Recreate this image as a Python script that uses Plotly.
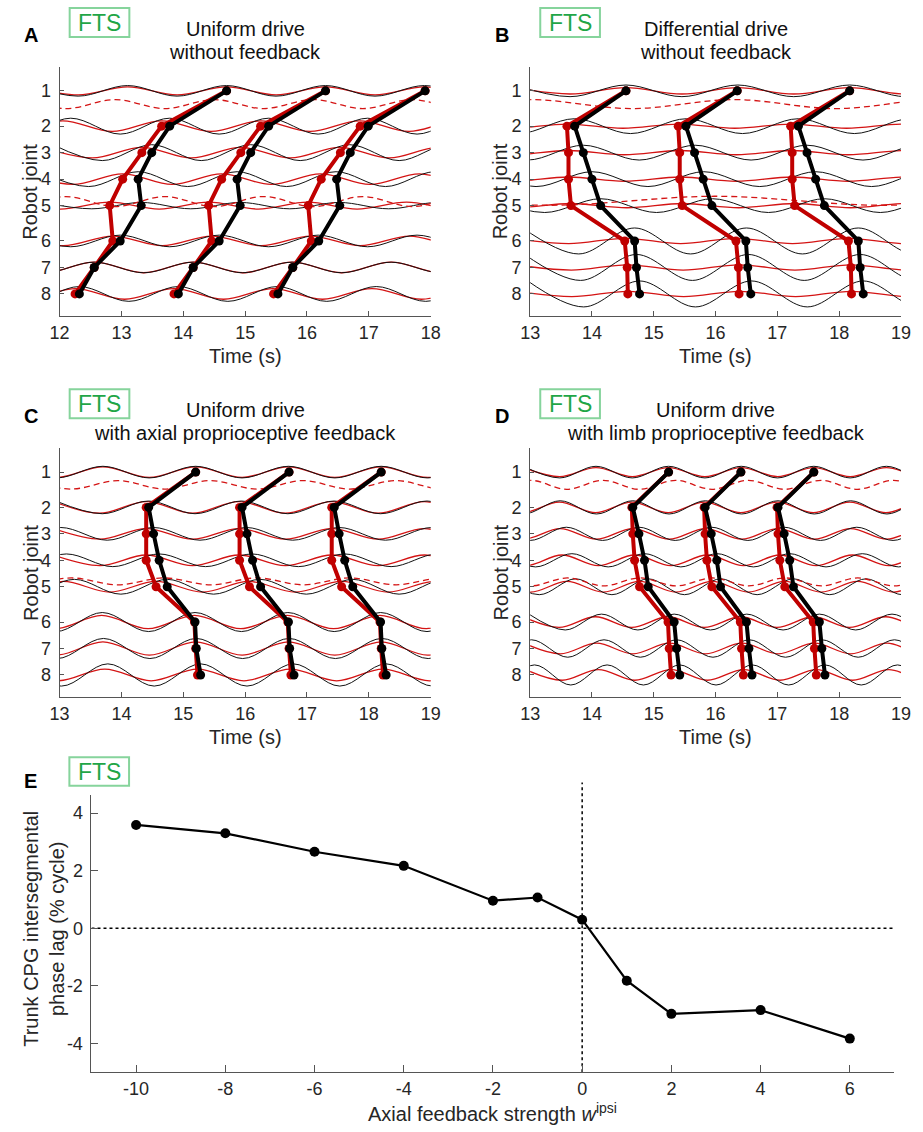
import plotly.graph_objects as go

# ---------------- data ----------------
JOINT_LABELS = ["1", "2", "3", "4", "5", "6", "7", "8"]
JOINT_POS = [1.0, 2.333, 3.333, 4.333, 5.333, 6.667, 7.667, 8.667]

# Panel A: uniform drive without feedback
A_PERIOD = 1.60
A_CYCLE_T1 = [14.70, 16.30, 17.91]          # joint-1 peak times (dots)
A_RED_LAG = [0.00, 1.05, 1.37, 1.68, 1.89, 1.84, 2.14, 2.45]
A_BLACK_LAG = [0.00, 0.92, 1.21, 1.43, 1.38, 1.72, 2.14, 2.38]
A_RED_AMP = [0.15, 0.20, 0.20, 0.20, 0.13, 0.18, 0.20, 0.20]
A_BLACK_AMP = [0.20, 0.30, 0.30, 0.28, 0.12, 0.22, 0.20, 0.28]
A_LIMB_PERIOD = [1.60, 1.60]
A_LIMB_PEAK = [12.90, 12.10]
A_LIMB_CENTER = [1.50, 5.18]
A_LIMB_AMP = [0.17, 0.19]

# Panel B: differential drive without feedback
B_PERIOD = 1.81
B_CYCLE_T1 = [14.55, 16.35, 18.17]
B_RED_LAG = [0.00, 0.955, 0.93, 0.93, 0.89, 0.02, -0.02, -0.03]
B_BLACK_LAG = [0.00, 0.83, 0.69, 0.55, 0.41, -0.14, -0.17, -0.22]
B_RED_AMP = [0.12, 0.08, 0.08, 0.08, 0.08, 0.10, 0.10, 0.10]
B_BLACK_AMP = [0.22, 0.28, 0.28, 0.28, 0.26, 0.49, 0.49, 0.49]
B_LIMB_PERIOD = [3.30, 5.40]
B_LIMB_PEAK = [16.30, 16.00]
B_LIMB_CENTER = [1.50, 5.15]
B_LIMB_AMP = [0.17, 0.17]

# Panel C: uniform drive with axial proprioceptive feedback
C_PERIOD = 1.50
C_CYCLE_T1 = [15.20, 16.71, 18.20]
C_RED_LAG = [0.00, 0.80, 0.80, 0.80, 0.64, 0.02, 0.00, -0.03]
C_BLACK_LAG = [0.00, 0.76, 0.68, 0.59, 0.46, 0.01, -0.01, -0.08]
C_RED_AMP = [0.20, 0.22, 0.20, 0.20, 0.20, 0.25, 0.25, 0.22]
C_BLACK_AMP = [0.22, 0.24, 0.24, 0.24, 0.28, 0.36, 0.38, 0.42]
C_LIMB_PERIOD = [1.50, 1.50]
C_LIMB_PEAK = [13.94, 13.19]
C_LIMB_CENTER = [1.48, 5.13]
C_LIMB_AMP = [0.16, 0.13]

# Panel D: uniform drive with limb proprioceptive feedback
D_PERIOD = 1.175
D_CYCLE_T1 = [15.24, 16.41, 17.59]
D_RED_LAG = [0.00, 0.595, 0.58, 0.55, 0.47, 0.01, -0.01, -0.04]
D_BLACK_LAG = [0.00, 0.58, 0.48, 0.39, 0.33, -0.09, -0.13, -0.18]
D_RED_AMP = [0.17, 0.20, 0.20, 0.20, 0.20, 0.20, 0.20, 0.20]
D_BLACK_AMP = [0.22, 0.25, 0.25, 0.25, 0.30, 0.30, 0.33, 0.38]
D_LIMB_PERIOD = [1.175, 1.175]
D_LIMB_PEAK = [14.18, 13.60]
D_LIMB_CENTER = [1.48, 5.15]
D_LIMB_AMP = [0.17, 0.15]

# Panel E
E_W = [-10, -8, -6, -4, -2, -1, 0, 1, 2, 4, 6]
E_LAG = [3.59, 3.30, 2.66, 2.17, 0.96, 1.07, 0.30, -1.82, -2.97, -2.84, -3.83]
E_XTICKS = [-10, -8, -6, -4, -2, 0, 2, 4, 6]
E_YTICKS = [-4, -2, 0, 2, 4]

PANELS = [
    dict(key="A", title=["Uniform drive", "without feedback"], xr=[12, 18],
         period=A_PERIOD, cyc=A_CYCLE_T1, rlag=A_RED_LAG, blag=A_BLACK_LAG,
         ramp=A_RED_AMP, bamp=A_BLACK_AMP, lper=A_LIMB_PERIOD, lpk=A_LIMB_PEAK,
         lc=A_LIMB_CENTER, la=A_LIMB_AMP),
    dict(key="B", title=["Differential drive", "without feedback"], xr=[13, 19],
         period=B_PERIOD, cyc=B_CYCLE_T1, rlag=B_RED_LAG, blag=B_BLACK_LAG,
         ramp=B_RED_AMP, bamp=B_BLACK_AMP, lper=B_LIMB_PERIOD, lpk=B_LIMB_PEAK,
         lc=B_LIMB_CENTER, la=B_LIMB_AMP),
    dict(key="C", title=["Uniform drive", "with axial proprioceptive feedback"], xr=[13, 19],
         period=C_PERIOD, cyc=C_CYCLE_T1, rlag=C_RED_LAG, blag=C_BLACK_LAG,
         ramp=C_RED_AMP, bamp=C_BLACK_AMP, lper=C_LIMB_PERIOD, lpk=C_LIMB_PEAK,
         lc=C_LIMB_CENTER, la=C_LIMB_AMP),
    dict(key="D", title=["Uniform drive", "with limb proprioceptive feedback"], xr=[13, 19],
         period=D_PERIOD, cyc=D_CYCLE_T1, rlag=D_RED_LAG, blag=D_BLACK_LAG,
         ramp=D_RED_AMP, bamp=D_BLACK_AMP, lper=D_LIMB_PERIOD, lpk=D_LIMB_PEAK,
         lc=D_LIMB_CENTER, la=D_LIMB_AMP),
]

# ---------------- layout geometry (pixels) ----------------
W, H = 923, 1132
FONT = "Liberation Sans, Arial, Helvetica, sans-serif"
RED_WAVE = "#d41414"
RED_CHAIN = "#c00000"
AXC = "#555555"
TXT = "#262626"

BOX = {  # x0, x1, ytop, ybottom
    "A": (50.7, 430.0, 67.0, 316.0),
    "B": (531.7, 910.7, 67.0, 316.0),
    "C": (50.7, 430.0, 448.3, 697.0),
    "D": (531.7, 910.7, 448.3, 697.0),
    "E": (83.3, 904.0, 795.0, 1072.3),
}


def fx(x):
    return x / W


def fy(y):
    return 1 - y / H


def extrema(peak_ref, period, amp, center, lo, hi):
    """control points: peaks (up) and troughs read as times/amplitudes"""
    pts = []
    for k in range(-12, 13):
        tp = peak_ref + k * period
        if lo - period <= tp <= hi + period:
            pts.append((tp, center - amp))
            pts.append((tp + period / 2, center + amp))
    pts.sort()
    return [p[0] for p in pts], [p[1] for p in pts]


fig = go.Figure()
annotations = []
shapes = []

for i, p in enumerate(PANELS):
    n = i + 1
    xa = "x" if n == 1 else f"x{n}"
    ya = "y" if n == 1 else f"y{n}"
    lo, hi = p["xr"]
    # joint waves
    for j in range(8):
        for lag, amp, col, wd in ((p["rlag"][j], p["ramp"][j], RED_WAVE, 1.3),
                                  (p["blag"][j], p["bamp"][j], "#111111", 1.0)):
            xs, ys = extrema(p["cyc"][0] - lag, p["period"], amp, JOINT_POS[j], lo, hi)
            fig.add_trace(go.Scatter(x=xs, y=ys, mode="lines", xaxis=xa, yaxis=ya,
                                     line=dict(color=col, width=wd, shape="spline", smoothing=1.0),
                                     hoverinfo="skip", showlegend=False))
    # limb (dashed)
    for per, pk, c, a in zip(p["lper"], p["lpk"], p["lc"], p["la"]):
        xs, ys = extrema(pk, per, a, c, lo, hi)
        fig.add_trace(go.Scatter(x=xs, y=ys, mode="lines", xaxis=xa, yaxis=ya,
                                 line=dict(color=RED_WAVE, width=1.3, dash="6px,4px",
                                           shape="spline", smoothing=1.0),
                                 hoverinfo="skip", showlegend=False))
    # phase chains
    for lags, col in ((p["rlag"], RED_CHAIN), (p["blag"], "#000000")):
        for c in p["cyc"]:
            fig.add_trace(go.Scatter(x=[c - l for l in lags], y=JOINT_POS, mode="lines+markers",
                                     xaxis=xa, yaxis=ya, line=dict(color=col, width=4),
                                     marker=dict(color=col, size=9), hoverinfo="skip",
                                     showlegend=False))

    x0, x1, yt, yb = BOX[p["key"]]
    common = dict(showline=True, linecolor=AXC, linewidth=1, ticks="inside", tickcolor=AXC,
                  showgrid=False, zeroline=False, tickfont=dict(family=FONT, size=18, color=TXT))
    fig.layout[("xaxis" if n == 1 else f"xaxis{n}")] = dict(
        domain=[fx(x0), fx(x1)], anchor=ya, range=[lo, hi], tickmode="array",
        tickvals=list(range(lo, hi + 1)), ticklen=5, **common)
    fig.layout[("yaxis" if n == 1 else f"yaxis{n}")] = dict(
        domain=[fy(yb), fy(yt)], anchor=xa, range=[9.5, 0.1], tickmode="array",
        tickvals=JOINT_POS, ticktext=JOINT_LABELS, ticklen=4, ticklabelstandoff=4, **common)

    cx = (x0 + x1) / 2
    annotations.append(dict(x=fx(cx), y=fy(yt - 38), text=p["title"][0], showarrow=False,
                            xref="paper", yref="paper", xanchor="center", yanchor="middle",
                            font=dict(family=FONT, size=20, color="#111")))
    annotations.append(dict(x=fx(cx), y=fy(yt - 15), text=p["title"][1], showarrow=False,
                            xref="paper", yref="paper", xanchor="center", yanchor="middle",
                            font=dict(family=FONT, size=20, color="#111")))
    annotations.append(dict(x=fx(x0 - 29), y=fy(yt - 32), text=f"<b>{p['key']}</b>", showarrow=False,
                            xref="paper", yref="paper", xanchor="center", yanchor="middle",
                            font=dict(family=FONT, size=20, color="#000")))
    shapes.append(dict(type="rect", xref="paper", yref="paper", x0=fx(x0 + 10.3), x1=fx(x0 + 71.3),
                       y0=fy(yt - 30), y1=fy(yt - 59), line=dict(color="#86d49c", width=2)))
    annotations.append(dict(x=fx(x0 + 40.8), y=fy(yt - 44.5), text="FTS", showarrow=False,
                            xref="paper", yref="paper", xanchor="center", yanchor="middle",
                            font=dict(family=FONT, size=23, color="#1fa647")))
    annotations.append(dict(x=fx(cx), y=fy(yb + 40), text="Time (s)", showarrow=False,
                            xref="paper", yref="paper", xanchor="center", yanchor="middle",
                            font=dict(family=FONT, size=20, color=TXT)))
    annotations.append(dict(x=fx(x0 - 30), y=fy((yt + yb) / 2), text="Robot joint", showarrow=False,
                            textangle=-90, xref="paper", yref="paper", xanchor="center",
                            yanchor="middle", font=dict(family=FONT, size=20, color=TXT)))

# ---------------- panel E ----------------
fig.add_trace(go.Scatter(x=E_W, y=E_LAG, mode="lines+markers", xaxis="x5", yaxis="y5",
                         line=dict(color="#000", width=2.2), marker=dict(color="#000", size=10),
                         hoverinfo="skip", showlegend=False))
x0, x1, yt, yb = BOX["E"]
commonE = dict(showline=True, linecolor=AXC, linewidth=1, ticks="inside", tickcolor=AXC,
               showgrid=False, zeroline=False, tickfont=dict(family=FONT, size=18, color=TXT))
fig.layout["xaxis5"] = dict(domain=[fx(x0), fx(x1)], anchor="y5", range=[-11, 7],
                            tickmode="array", tickvals=E_XTICKS,
                            ticktext=[str(v) for v in E_XTICKS], ticklen=7, **commonE)
fig.layout["yaxis5"] = dict(domain=[fy(yb), fy(yt)], anchor="x5", range=[-5, 4.63],
                            tickmode="array", tickvals=E_YTICKS,
                            ticktext=[str(v) for v in E_YTICKS], ticklen=7,
                            ticklabelstandoff=4, **commonE)
shapes.append(dict(type="line", xref="x5", yref="y5", x0=-11, x1=7, y0=0, y1=0,
                   line=dict(color="#000", width=1.5, dash="dot"), layer="below"))
shapes.append(dict(type="line", xref="x5", yref="y5 domain", x0=0, x1=0, y0=0, y1=1.045,
                   line=dict(color="#000", width=1.5, dash="dot"), layer="below"))
annotations.append(dict(x=fx((x0 + x1) / 2), y=fy(1112), showarrow=False, xref="paper", yref="paper",
                        text="Axial feedback strength <i>w</i><sup>ipsi</sup>", xanchor="center",
                        yanchor="middle", font=dict(family=FONT, size=20, color=TXT)))
annotations.append(dict(x=fx(34), y=fy(928.5), showarrow=False, xref="paper", yref="paper",
                        text="Trunk CPG intersegmental<br>phase lag (% cycle)", textangle=-90,
                        xanchor="center", yanchor="middle",
                        font=dict(family=FONT, size=20, color=TXT)))
annotations.append(dict(x=fx(21), y=fy(781), text="<b>E</b>", showarrow=False, xref="paper",
                        yref="paper", xanchor="center", yanchor="middle",
                        font=dict(family=FONT, size=20, color="#000")))
shapes.append(dict(type="rect", xref="paper", yref="paper", x0=fx(60.7), x1=fx(121.7),
                   y0=fy(757.3), y1=fy(785.7), line=dict(color="#86d49c", width=2)))
annotations.append(dict(x=fx(91.2), y=fy(771.5), text="FTS", showarrow=False, xref="paper",
                        yref="paper", xanchor="center", yanchor="middle",
                        font=dict(family=FONT, size=23, color="#1fa647")))

fig.update_layout(width=W, height=H, margin=dict(l=0, r=0, t=0, b=0),
                  paper_bgcolor="white", plot_bgcolor="white", annotations=annotations,
                  shapes=shapes, showlegend=False, font=dict(family=FONT))
fig.write_html("out.html", config={"displayModeBar": False, "staticPlot": True},
               post_script="document.body.style.margin='0px';document.body.style.overflow='hidden';")
